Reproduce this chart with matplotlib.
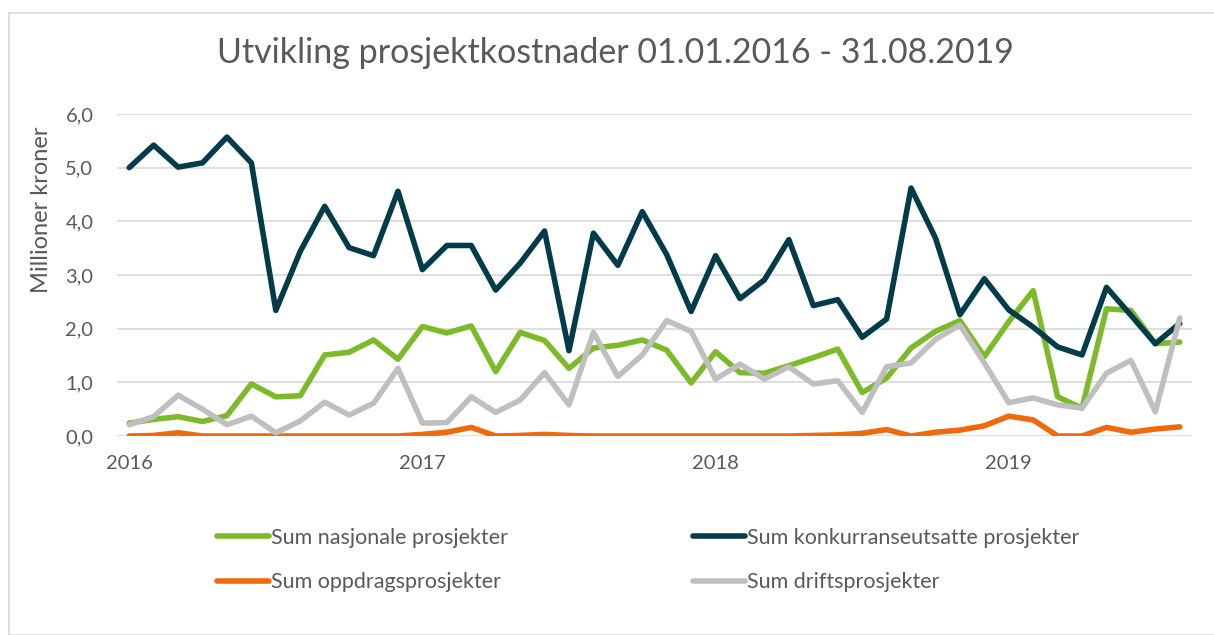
import matplotlib
matplotlib.use("Agg")
import matplotlib.pyplot as plt
from matplotlib.patches import Rectangle

plt.rcParams['font.family'] = ['Lato', 'DejaVu Sans']

# Monthly values Jan 2016 - Aug 2019 (millioner kroner)
months = list(range(44))
nasjonale = [0.24, 0.31, 0.36, 0.27, 0.38, 0.97, 0.73, 0.75, 1.51, 1.56, 1.79, 1.43,
             2.04, 1.92, 2.05, 1.20, 1.93, 1.78, 1.26, 1.64, 1.69, 1.79, 1.60, 0.99,
             1.57, 1.18, 1.17, 1.31, 1.46, 1.62, 0.81, 1.08, 1.64, 1.95, 2.15, 1.48,
             2.13, 2.71, 0.73, 0.52, 2.37, 2.34, 1.72, 1.75]
konkurranse = [5.00, 5.42, 5.01, 5.09, 5.57, 5.09, 2.34, 3.44, 4.28, 3.51, 3.36, 4.56,
               3.10, 3.55, 3.55, 2.72, 3.22, 3.82, 1.59, 3.78, 3.18, 4.18, 3.38, 2.32,
               3.36, 2.56, 2.91, 3.66, 2.43, 2.54, 1.84, 2.18, 4.62, 3.69, 2.26, 2.93,
               2.35, 2.03, 1.66, 1.51, 2.77, 2.25, 1.72, 2.10]
oppdrag = [0.00, 0.01, 0.06, 0.00, 0.00, 0.00, 0.00, 0.00, 0.00, 0.00, 0.00, 0.00,
           0.03, 0.07, 0.16, 0.00, 0.01, 0.03, 0.01, 0.00, 0.00, 0.00, 0.00, 0.00,
           0.00, 0.00, 0.00, 0.00, 0.01, 0.02, 0.05, 0.12, 0.00, 0.07, 0.11, 0.19,
           0.37, 0.30, 0.00, 0.00, 0.16, 0.07, 0.13, 0.17]
drift = [0.21, 0.36, 0.76, 0.50, 0.21, 0.37, 0.06, 0.28, 0.63, 0.39, 0.61, 1.26,
         0.24, 0.25, 0.73, 0.44, 0.67, 1.18, 0.58, 1.93, 1.11, 1.51, 2.15, 1.95,
         1.06, 1.34, 1.06, 1.29, 0.97, 1.03, 0.44, 1.29, 1.36, 1.80, 2.07, 1.36,
         0.62, 0.71, 0.58, 0.52, 1.17, 1.41, 0.45, 2.20]
year_ticks = [0, 12, 24, 36]
year_labels = ["2016", "2017", "2018", "2019"]
y_ticks = [0, 1, 2, 3, 4, 5, 6]
y_labels = ["0,0", "1,0", "2,0", "3,0", "4,0", "5,0", "6,0"]

series = [
    ("Sum nasjonale prosjekter", nasjonale, "#7CBA2A"),
    ("Sum konkurranseutsatte prosjekter", konkurranse, "#023B4A"),
    ("Sum oppdragsprosjekter", oppdrag, "#EE6A0C"),
    ("Sum driftsprosjekter", drift, "#BFBFBF"),
]

W, H = 1214, 635
fig = plt.figure(figsize=(W / 100, H / 100), dpi=100)
fig.patches.append(Rectangle((9 / W, 0), 1.2, 1 - 13 / H, transform=fig.transFigure,
                             fill=False, edgecolor="#D9D9D9", lw=1.2))

ax = fig.add_axes([117 / W, 1 - 436 / H, (1192 - 117) / W, (436 - 114) / H])
handles = {}
for name, vals, col in series:
    ln, = ax.plot(months, vals, color=col, lw=4.0, solid_joinstyle="round",
                  solid_capstyle="round", label=name, zorder=3)
    handles[name] = ln

ax.set_xlim(-0.5, 43.5)
ax.set_ylim(0, 6)
ax.set_yticks(y_ticks)
ax.set_yticklabels(y_labels)
ax.set_xticks(year_ticks)
ax.set_xticklabels(year_labels)
ax.grid(axis="y", color="#D9D9D9", lw=1.2, zorder=0)
for s in ax.spines.values():
    s.set_visible(False)
ax.tick_params(axis="both", length=0, labelsize=14.5, labelcolor="#595959")
ax.tick_params(axis="y", pad=17)
ax.tick_params(axis="x", pad=14)

fig.text(615 / W, 1 - 53 / H, "Utvikling prosjektkostnader 01.01.2016 - 31.08.2019",
         ha="center", va="center", fontsize=24.5, color="#595959")
fig.text(42 / W, 1 - 210 / H, "Millioner kroner", rotation=90, ha="center", va="center",
         fontsize=17, color="#595959")

order = ["Sum nasjonale prosjekter", "Sum oppdragsprosjekter",
         "Sum konkurranseutsatte prosjekter", "Sum driftsprosjekter"]
leg = fig.legend([handles[n] for n in order], order, ncol=2, loc="center",
                 bbox_to_anchor=(648 / W, 1 - 560 / H), frameon=False,
                 fontsize=15.5, handlelength=2.4, handletextpad=0.1,
                 columnspacing=8.6, labelspacing=1.15, labelcolor="#595959")

fig.savefig("out.png", dpi=100)
